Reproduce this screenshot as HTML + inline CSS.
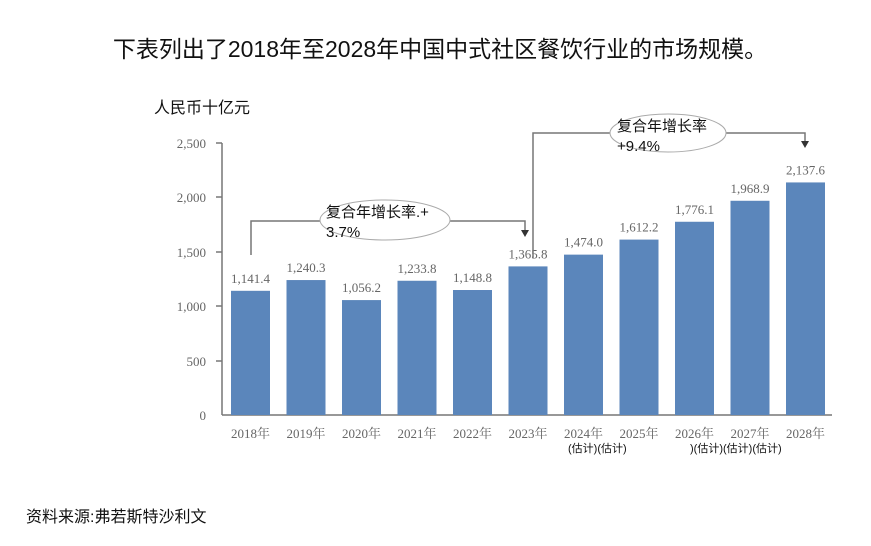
<!DOCTYPE html>
<html><head><meta charset="utf-8"><style>
body{margin:0;background:#fff;}
svg{display:block;font-family:"Liberation Sans","Noto Sans CJK SC",sans-serif;}
.s{font-family:"Liberation Serif","Noto Serif CJK SC",serif;fill:#666;font-size:13px;}
</style></head><body>
<svg width="871" height="546" viewBox="0 0 871 546">
<text x="440" y="57" text-anchor="middle" font-size="23" fill="#111">下表列出了2018年至2028年中国中式社区餐饮行业的市场规模。</text>
<text x="154" y="113" font-size="16" fill="#111">人民币十亿元</text>
<g stroke="#777" stroke-width="1.5">
<line x1="222" y1="143" x2="222" y2="415"/><line x1="222" y1="415" x2="832" y2="415"/>
<line x1="216" y1="143" x2="222" y2="143"/><line x1="216" y1="197" x2="222" y2="197"/><line x1="216" y1="252" x2="222" y2="252"/><line x1="216" y1="306" x2="222" y2="306"/><line x1="216" y1="361" x2="222" y2="361"/>
</g>
<g class="s" text-anchor="end">
<text x="206" y="148">2,500</text><text x="206" y="202">2,000</text><text x="206" y="257">1,500</text><text x="206" y="311">1,000</text><text x="206" y="366">500</text><text x="206" y="420">0</text>
</g>
<g fill="#5b86bb" id="bars"></g>
<g id="lbl" class="s" text-anchor="middle"></g>
<g stroke="#777" stroke-width="1.5" fill="none">
<polyline points="251,255 251,221 525,221 525,232"/>
<polyline points="533,258 533,133 805,133 805,143"/>
</g>
<path d="M521,230 L529,230 L525,237Z M801,141 L809,141 L805,148Z" fill="#333"/>
<ellipse cx="385" cy="220" rx="65" ry="20" fill="#fff" stroke="#aaa"/>
<ellipse cx="668" cy="133" rx="58" ry="19" fill="#fff" stroke="#aaa"/>
<text x="326" y="217" font-size="15" fill="#111">复合年增长率.+</text>
<text x="326" y="237" font-size="15" fill="#111">3.7%</text>
<text x="617" y="131" font-size="15" fill="#111">复合年增长率</text>
<text x="617" y="151" font-size="15" fill="#111">+9.4%</text>
<g font-size="11" fill="#111">
<text x="568" y="452">(估计)(估计)</text>
<text x="690" y="452">)(估计)(估计)(估计)</text>
</g>
<text x="26" y="522" font-size="16" fill="#111">资料来源:弗若斯特沙利文</text>
<script>
var v=[1141.4,1240.3,1056.2,1233.8,1148.8,1365.8,1474.0,1612.2,1776.1,1968.9,2137.6];
var b=document.getElementById('bars'),l=document.getElementById('lbl'),ns='http://www.w3.org/2000/svg';
v.forEach(function(d,i){var x=231+i*55.5,h=d*0.1088,y=415-h;
var r=document.createElementNS(ns,'rect');r.setAttribute('x',x);r.setAttribute('y',y);r.setAttribute('width',39);r.setAttribute('height',h);b.appendChild(r);
var t=document.createElementNS(ns,'text');t.setAttribute('x',x+19.5);t.setAttribute('y',y-8);t.textContent=d.toLocaleString('en-US',{minimumFractionDigits:1});l.appendChild(t);
var t2=document.createElementNS(ns,'text');t2.setAttribute('x',x+19.5);t2.setAttribute('y',438);t2.textContent=(2018+i)+'年';l.appendChild(t2);});
</script>
</svg>
</body></html>
